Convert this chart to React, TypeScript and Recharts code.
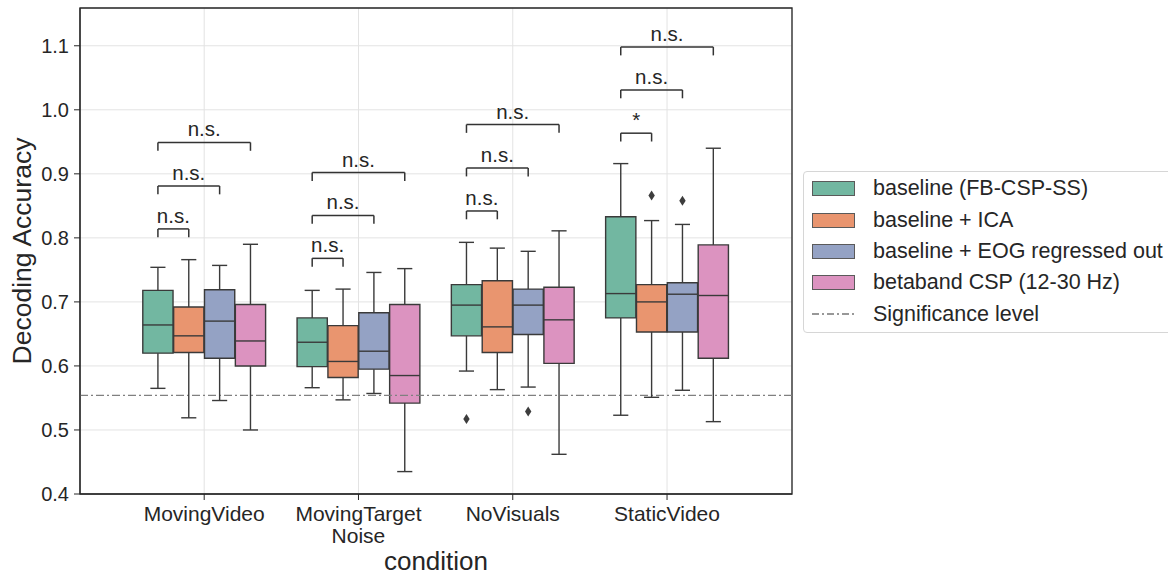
import React from 'react';
import {
  ComposedChart,
  XAxis,
  YAxis,
  CartesianGrid,
  ReferenceArea,
  ReferenceLine,
  ReferenceDot,
  Scatter,
  Legend,
} from 'recharts';

const conditions = ['MovingVideo', 'MovingTarget\nNoise', 'NoVisuals', 'StaticVideo'];
const methods = [
  'baseline (FB-CSP-SS)',
  'baseline + ICA',
  'baseline + EOG regressed out',
  'betaband CSP (12-30 Hz)',
];
const colors = ['#72b7a1', '#e9956f', '#94a2c4', '#dc93c0'];

// [whisker low, q1, median, q3, whisker high] per condition
const baselineStats = [
  [0.565, 0.62, 0.664, 0.718, 0.754],
  [0.566, 0.599, 0.637, 0.675, 0.718],
  [0.592, 0.647, 0.695, 0.727, 0.793],
  [0.523, 0.675, 0.713, 0.833, 0.916],
];
const icaStats = [
  [0.519, 0.621, 0.647, 0.692, 0.766],
  [0.547, 0.582, 0.607, 0.663, 0.72],
  [0.563, 0.621, 0.661, 0.733, 0.784],
  [0.551, 0.653, 0.7, 0.727, 0.827],
];
const eogStats = [
  [0.546, 0.612, 0.67, 0.719, 0.757],
  [0.557, 0.595, 0.623, 0.683, 0.746],
  [0.567, 0.649, 0.695, 0.72, 0.779],
  [0.562, 0.653, 0.712, 0.73, 0.821],
];
const betaStats = [
  [0.5, 0.6, 0.639, 0.696, 0.79],
  [0.435, 0.542, 0.585, 0.696, 0.752],
  [0.462, 0.604, 0.672, 0.723, 0.811],
  [0.513, 0.612, 0.71, 0.789, 0.94],
];
const allStats = [baselineStats, icaStats, eogStats, betaStats];

// fliers: [condition index, method index, value]
const outliers = [
  [2, 0, 0.517],
  [2, 2, 0.529],
  [3, 1, 0.866],
  [3, 2, 0.858],
];

// significance brackets: [condition, from method, to method, height, text]
const brackets = [
  [0, 0, 1, 0.814, 'n.s.'],
  [0, 0, 2, 0.881, 'n.s.'],
  [0, 0, 3, 0.949, 'n.s.'],
  [1, 0, 1, 0.768, 'n.s.'],
  [1, 0, 2, 0.835, 'n.s.'],
  [1, 0, 3, 0.902, 'n.s.'],
  [2, 0, 1, 0.842, 'n.s.'],
  [2, 0, 2, 0.909, 'n.s.'],
  [2, 0, 3, 0.977, 'n.s.'],
  [3, 0, 1, 0.9635, '*'],
  [3, 0, 2, 1.031, 'n.s.'],
  [3, 0, 3, 1.098, 'n.s.'],
];

const yTicks = [0.4, 0.5, 0.6, 0.7, 0.8, 0.9, 1.0, 1.1];
const significanceLevel = 0.554;

const xDomain = [-0.805, 3.81];
const yDomain = [0.4, 1.159];
const FONT = '"Liberation Sans", Arial, sans-serif';
const TEXT = '#262626';
const EDGE = '#3a3a3a';

const hueX = (c: number, m: number) => c + (m - 1.5) * 0.2;
const HALF = 0.098;
const CAP = 0.049;
const LEG = 0.013;

const outlierPoints = outliers.map(([c, m, v]) => ({ x: hueX(c, m), y: v }));

const Diamond = (props: any) => {
  const { cx, cy } = props;
  return <path d={`M${cx},${cy - 5} L${cx + 3.2},${cy} L${cx},${cy + 5} L${cx - 3.2},${cy} Z`} fill="#3d3d3d" />;
};

const CondTick = (props: any) => {
  const { x, y, payload } = props;
  const lines = conditions[payload.value].split('\n');
  return (
    <text x={x} y={y} textAnchor="middle" fontSize={21} fontFamily={FONT} fill={TEXT}>
      {lines.map((l, i) => (
        <tspan key={i} x={x} dy={i === 0 ? 21 : 22}>
          {l}
        </tspan>
      ))}
    </text>
  );
};

const LegendBox = () => (
  <div
    style={{
      border: '1px solid #d6d6d6',
      borderRadius: 4,
      background: '#fff',
      padding: '1px 0 2px 0',
      fontFamily: FONT,
      fontSize: 21.5,
      color: TEXT,
      width: 380,
    }}
  >
    {methods.map((m, i) => (
      <div key={m} style={{ height: 31.4, display: 'flex', alignItems: 'center', whiteSpace: 'nowrap' }}>
        <div
          style={{
            marginLeft: 8,
            width: 41,
            height: 13,
            background: colors[i],
            border: '1px solid #5a5a5a',
            marginRight: 18,
          }}
        />
        {m}
      </div>
    ))}
    <div style={{ height: 31.4, display: 'flex', alignItems: 'center', whiteSpace: 'nowrap' }}>
      <svg width={43} height={4} style={{ marginLeft: 8, marginRight: 18 }}>
        <line x1={0} y1={2} x2={43} y2={2} stroke="#777" strokeWidth={1.3} strokeDasharray="7 3 2 3" />
      </svg>
      Significance level
    </div>
  </div>
);

export default function App() {
  const boxes: React.ReactNode[] = [];
  allStats.forEach((stats, m) => {
    stats.forEach(([lo, q1, med, q3, hi], c) => {
      const cx = hueX(c, m);
      const k = `${m}-${c}`;
      boxes.push(
        <ReferenceLine key={`wl${k}`} segment={[{ x: cx, y: lo }, { x: cx, y: q1 }]} stroke={EDGE} strokeWidth={1.4} />,
        <ReferenceLine key={`wh${k}`} segment={[{ x: cx, y: q3 }, { x: cx, y: hi }]} stroke={EDGE} strokeWidth={1.4} />,
        <ReferenceLine key={`cl${k}`} segment={[{ x: cx - CAP, y: lo }, { x: cx + CAP, y: lo }]} stroke={EDGE} strokeWidth={1.4} />,
        <ReferenceLine key={`ch${k}`} segment={[{ x: cx - CAP, y: hi }, { x: cx + CAP, y: hi }]} stroke={EDGE} strokeWidth={1.4} />,
        <ReferenceArea
          key={`b${k}`}
          x1={cx - HALF}
          x2={cx + HALF}
          y1={q1}
          y2={q3}
          fill={colors[m]}
          fillOpacity={1}
          stroke={EDGE}
          strokeWidth={1.4}
        />,
        <ReferenceLine key={`md${k}`} segment={[{ x: cx - HALF, y: med }, { x: cx + HALF, y: med }]} stroke={EDGE} strokeWidth={1.4} />
      );
    });
  });

  const sig: React.ReactNode[] = [];
  brackets.forEach(([c, a, b, h, txt], i) => {
    const xa = hueX(c as number, a as number);
    const xb = hueX(c as number, b as number);
    const y = h as number;
    sig.push(
      <ReferenceLine key={`sa${i}`} segment={[{ x: xa, y: y - LEG }, { x: xa, y }]} stroke="#333" strokeWidth={1.5} />,
      <ReferenceLine key={`st${i}`} segment={[{ x: xa, y }, { x: xb, y }]} stroke="#333" strokeWidth={1.5} />,
      <ReferenceLine key={`sb${i}`} segment={[{ x: xb, y: y - LEG }, { x: xb, y }]} stroke="#333" strokeWidth={1.5} />,
      <ReferenceDot
        key={`sl${i}`}
        x={(xa + xb) / 2}
        y={y}
        r={0}
        fill="none"
        stroke="none"
        label={{ value: txt as string, position: 'top', offset: 6, fontSize: 20.5, fontFamily: FONT, fill: TEXT }}
      />
    );
  });

  return (
    <div style={{ position: 'absolute', left: 0, top: 0, width: 1168, height: 575, overflow: 'hidden', background: '#fff' }}>
      <ComposedChart width={1168} height={575} margin={{ top: 8, right: 376, bottom: 0, left: 0 }}>
        <CartesianGrid stroke="#e3e3e3" strokeWidth={1} />
        <XAxis
          dataKey="x"
          type="number"
          domain={xDomain}
          ticks={[0, 1, 2, 3]}
          allowDataOverflow
          height={81}
          tickSize={6}
          tickMargin={0}
          stroke={TEXT}
          tick={<CondTick />}
          label={{
            value: 'condition',
            content: (p: any) => {
              const vb = p.viewBox;
              return (
                <text x={vb.x + vb.width / 2} y={vb.y + 76} textAnchor="middle" fontSize={26} fontFamily={FONT} fill={TEXT}>
                  condition
                </text>
              );
            },
          }}
        />
        <YAxis
          dataKey="y"
          type="number"
          domain={yDomain}
          ticks={yTicks}
          allowDataOverflow
          width={80}
          tickSize={6}
          tickMargin={5}
          stroke={TEXT}
          tickFormatter={(v: number) => v.toFixed(1)}
          tick={{ fontSize: 20, fontFamily: FONT, fill: TEXT }}
          label={{
            value: 'Decoding Accuracy',
            content: (p: any) => {
              const vb = p.viewBox;
              const x = vb.x + 31;
              const y = vb.y + vb.height / 2;
              return (
                <text x={x} y={y} transform={`rotate(-90 ${x} ${y})`} textAnchor="middle" fontSize={26.5} fontFamily={FONT} fill={TEXT}>
                  Decoding Accuracy
                </text>
              );
            },
          }}
        />
        <ReferenceLine y={significanceLevel} stroke="#808080" strokeWidth={1.4} strokeDasharray="8 3 2 3" />
        {boxes}
        {sig}
        <Scatter data={outlierPoints} dataKey="y" shape={<Diamond />} isAnimationActive={false} />
        <ReferenceArea x1={xDomain[0]} x2={xDomain[1]} y1={yDomain[0]} y2={yDomain[1]} fill="none" stroke={TEXT} strokeWidth={1.3} />
        <Legend
          layout="vertical"
          align="center"
          verticalAlign="middle"
          wrapperStyle={{ left: 803, top: 171 }}
          content={() => <LegendBox />}
        />
      </ComposedChart>
    </div>
  );
}
